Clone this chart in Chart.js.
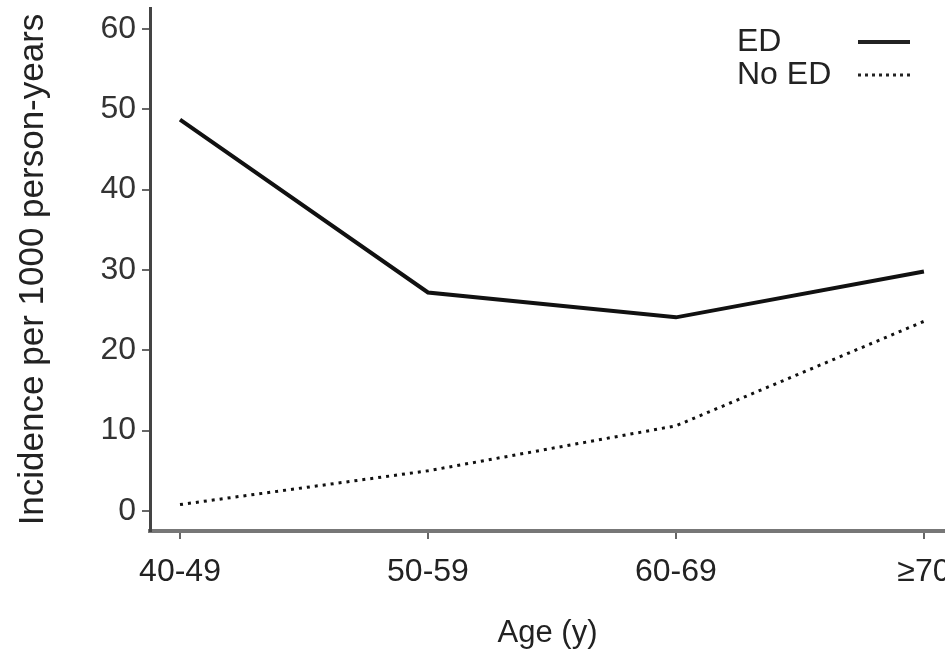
<!DOCTYPE html>
<html>
<head>
<meta charset="utf-8">
<script src="https://cdn.jsdelivr.net/npm/chart.js@4.4.1/dist/chart.umd.min.js"></script>
<style>
  html, body { margin: 0; padding: 0; background: #fff; overflow: hidden; }
  #box { width: 945px; height: 652px; position: relative; }
</style>
</head>
<body>
<div id="box"><canvas id="chart"></canvas></div>
<script>
// age groups on the x axis
const ageGroups = ['40-49', '50-59', '60-69', '\u226570'];
// incidence per 1000 person-years
const edValues = [48.7, 27.2, 24.1, 29.8];
const noEdValues = [0.8, 5.0, 10.6, 23.6];
const yTicks = [0, 10, 20, 30, 40, 50, 60];

const FONT = 'Liberation Sans, Arial, sans-serif';

function toPoints(vals) {
    return vals.map((v, i) => ({x: i, y: v}));
}

// legend drawn as in the original: label first, line sample after
const sideLegend = {
    id: 'sideLegend',
    afterDraw(chart) {
        const c = chart.ctx;
        const items = [
            {label: 'ED', dash: [], width: 4},
            {label: 'No ED', dash: [3, 4], width: 3}
        ];
        c.save();
        c.font = '32px ' + FONT;
        c.fillStyle = '#222';
        c.textBaseline = 'middle';
        items.forEach((it, i) => {
            const y = 42 + i * 33;
            c.fillText(it.label, 737, y);
            c.beginPath();
            c.setLineDash(it.dash);
            c.lineWidth = it.width;
            c.strokeStyle = '#222';
            c.moveTo(858, y);
            c.lineTo(910, y);
            c.stroke();
        });
        c.restore();
    }
};

new Chart(document.getElementById('chart'), {
    type: 'line',
    data: {
        datasets: [
            {
                label: 'ED',
                data: toPoints(edValues),
                borderColor: '#111',
                borderWidth: 4,
                pointRadius: 0,
                tension: 0
            },
            {
                label: 'No ED',
                data: toPoints(noEdValues),
                borderColor: '#111',
                borderWidth: 3,
                borderDash: [3, 5],
                pointRadius: 0,
                tension: 0
            }
        ]
    },
    options: {
        responsive: true,
        maintainAspectRatio: false,
        animation: false,
        layout: {padding: {top: 8, left: 0, right: 0, bottom: 0}},
        plugins: {legend: {display: false}, tooltip: {enabled: false}},
        scales: {
            x: {
                type: 'linear',
                min: -0.121,
                max: 3.085,
                afterBuildTicks: (s) => { s.ticks = ageGroups.map((g, i) => ({value: i})); },
                ticks: {
                    callback: (v) => ageGroups[v],
                    font: {family: FONT, size: 32},
                    color: '#222',
                    padding: 14,
                    maxRotation: 0
                },
                grid: {drawOnChartArea: false, drawTicks: true, tickLength: 8, color: '#666', lineWidth: 2},
                border: {display: true, color: '#777', width: 4},
                title: {
                    display: true,
                    text: 'Age (y)',
                    font: {family: FONT, size: 31},
                    color: '#222',
                    padding: {top: 0, bottom: 0}
                },
                afterFit: (s) => { s.height = 121; s.paddingLeft = 0; s.paddingRight = 0; }
            },
            y: {
                min: -2.49,
                max: 62.6,
                afterBuildTicks: (s) => { s.ticks = yTicks.map(v => ({value: v})); },
                ticks: {
                    font: {family: FONT, size: 32},
                    color: '#333',
                    padding: 6
                },
                grid: {drawOnChartArea: false, drawTicks: true, tickLength: 8, color: '#666', lineWidth: 2},
                border: {display: true, color: '#444', width: 3},
                title: {
                    display: true,
                    text: 'Incidence per 1000 person-years',
                    font: {family: FONT, size: 35},
                    color: '#222',
                    padding: {top: 12, bottom: 0}
                },
                afterFit: (s) => { s.width = 150; s.paddingTop = 0; s.paddingBottom = 0; }
            }
        }
    },
    plugins: [sideLegend]
});
</script>
</body>
</html>
